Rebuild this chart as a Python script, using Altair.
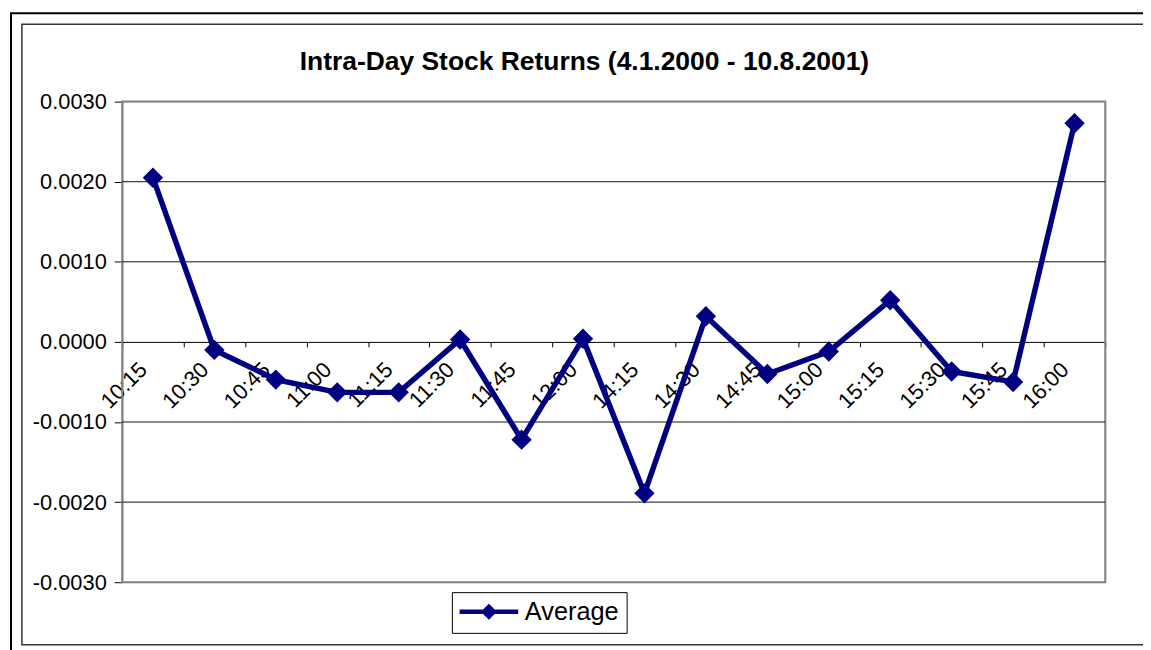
import altair as alt
import pandas as pd

times = ["10:15", "10:30", "10:45", "11:00", "11:15", "11:30", "11:45", "12:00",
         "14:15", "14:30", "14:45", "15:00", "15:15", "15:30", "15:45", "16:00"]
average = [0.00205, -0.00010, -0.00047, -0.00063, -0.00063, 0.00003, -0.00122, 0.00004,
           -0.00189, 0.00032, -0.00040, -0.00012, 0.00052, -0.00037, -0.00050, 0.00273]
series_name = "Average"
y_ticks = [-0.003, -0.002, -0.001, 0.0, 0.001, 0.002, 0.003]
grid_values = [-0.002, -0.001, 0.001, 0.002]
title_text = "Intra-Day Stock Returns (4.1.2000 - 10.8.2001)"

FONT = "Arial, Liberation Sans, sans-serif"
NAVY = "#000080"
W, H = 990, 484

df = pd.DataFrame({"time": times, "value": average, "series": series_name})
grid_df = pd.DataFrame({"g": grid_values})
one = pd.DataFrame({"k": [0]})

yscale = alt.Scale(domain=[-0.003, 0.003], nice=False, zero=False)
xscale = alt.Scale(type="band", paddingInner=0, paddingOuter=0)

label_expr = "datum.value < 0 ? '-' + format(-datum.value, '.4f') : format(datum.value, '.4f')"

# legend symbol: thick line with a diamond, starting at the symbol's left edge
legend_path = ("M-1,-0.18 L0.97,-0.18 L1.46,-0.67 L1.95,-0.18 L3.92,-0.18 "
               "L3.92,0.18 L1.95,0.18 L1.46,0.67 L0.97,0.18 L-1,0.18 Z")

base = alt.Chart(df)

line = base.mark_line(color=NAVY, strokeWidth=5.5).encode(
    x=alt.X("time:N", sort=times, scale=xscale, title=None,
            axis=alt.Axis(orient="bottom", offset=-H / 2, tickBand="extent",
                          labelAngle=-45, labelAlign="right", labelBaseline="middle",
                          labelOffset=-10, labelPadding=19, tickSize=5,
                          labelFontSize=22, labelFont=FONT, labelColor="black",
                          domainColor="black", tickColor="black", domainWidth=1,
                          tickWidth=1, grid=False, labelOverlap=False)),
    y=alt.Y("value:Q", scale=yscale, title=None,
            axis=alt.Axis(values=y_ticks, labelExpr=label_expr, tickSize=8,
                          labelPadding=8, labelFontSize=22, labelFont=FONT,
                          labelColor="black", domainColor="black", tickColor="black",
                          grid=False)),
)

points = base.mark_point(shape="diamond", filled=True, size=420, opacity=1).encode(
    x=alt.X("time:N", sort=times, scale=xscale, title=None),
    y=alt.Y("value:Q", scale=yscale, title=None),
    color=alt.Color("series:N", scale=alt.Scale(domain=[series_name], range=[NAVY]),
                    legend=alt.Legend(
                        title=None, orient="none", legendX=332, legendY=494,
                        symbolType=legend_path,
                        symbolSize=576, symbolStrokeWidth=0, symbolFillColor=NAVY,
                        labelFontSize=25.5, labelFont=FONT, labelColor="black",
                        labelOffset=41, padding=7, strokeColor="black",
                        fillColor="white", cornerRadius=0)),
)

grid = alt.Chart(grid_df).mark_rule(color="#111111", strokeWidth=1).encode(
    y=alt.Y("g:Q", scale=yscale, title=None)
)

plot_border = alt.Chart(one).mark_rect(fill=None, stroke="#808080", strokeWidth=2).encode(
    x=alt.value(0), x2=alt.value(W), y=alt.value(0), y2=alt.value(H)
)
outer = alt.Chart(one).mark_rect(fill=None, stroke="black", strokeWidth=2).encode(
    x=alt.value(-112), x2=alt.value(1037), y=alt.value(-89), y2=alt.value(560)
)
inner = alt.Chart(one).mark_rect(fill=None, stroke="#333333", strokeWidth=1.5).encode(
    x=alt.value(-101), x2=alt.value(1032), y=alt.value(-78), y2=alt.value(547)
)
title = alt.Chart(one).mark_text(font=FONT, fontSize=26.6, fontWeight="bold", color="black",
                                 align="center", baseline="alphabetic").encode(
    x=alt.value(465.5), y=alt.value(-32), text=alt.value(title_text)
)

chart = alt.layer(outer, inner, title, plot_border, grid, line, points).properties(
    width=W, height=H,
    autosize=alt.AutoSizeParams(type="none"),
    padding={"left": 115, "top": 92, "right": 38, "bottom": 66},
).configure_view(strokeWidth=0, fill="white").configure(
    background="white"
)

chart.save("out.html", embed_options={"renderer": "svg", "actions": False})
